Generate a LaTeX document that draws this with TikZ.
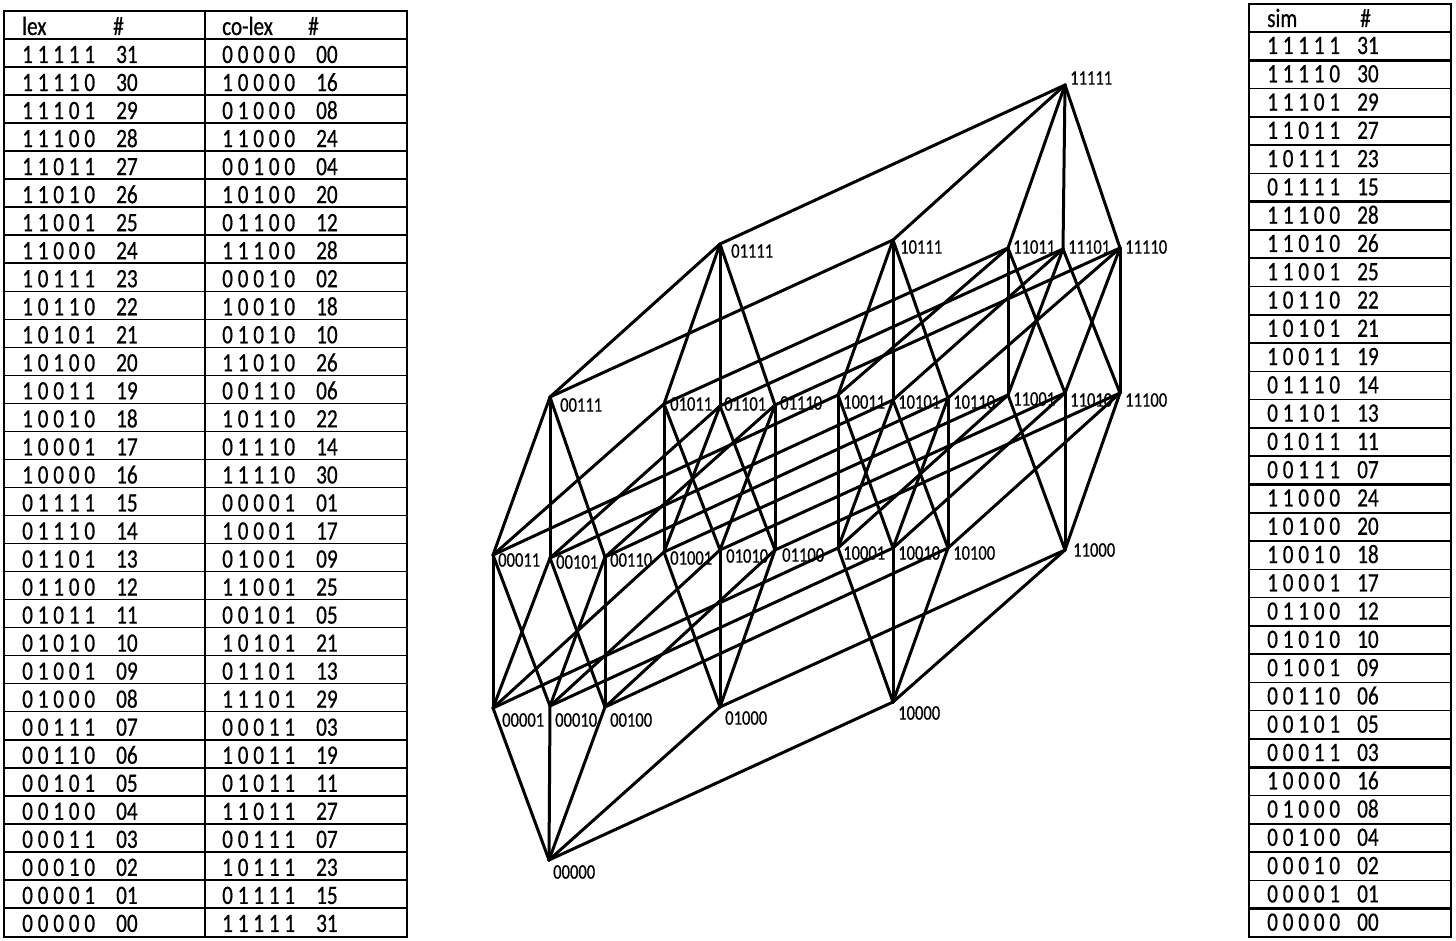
\documentclass[tikz,border=0pt]{standalone}
\usepackage{fontspec}
\setmainfont{Carlito}[FakeStretch=0.8, FakeBold=0.6]
\tikzset{
  grid/.style={line width=1.5pt},
  sepline/.style={line width=3.3pt},
  cell/.style={font=\fontsize{26.5}{28}\selectfont, inner sep=0pt, anchor=base west},
  vtx/.style={circle, fill=black, inner sep=0pt, minimum size=3.5pt},
  vlbl/.style={font=\fontsize{20.7}{22}\selectfont, inner sep=0pt, anchor=west},
  hasse/.style={line width=3pt, line cap=round},
}
\def\bitsx#1#2#3#4#5{#1 #2 #3 #4 #5}
\newcommand\bitstr[1]{\expandafter\bitsx#1}
\begin{document}
\begin{tikzpicture}[x=1pt, y=-1pt]
  \useasboundingbox (0,0) rectangle (1456,941);

  % lex / co-lex table
  \draw[grid] (4,11) rectangle (407,937);
  \draw[grid] (205,11) -- (205,937);
  \foreach \k in {0,...,31}
    \draw[grid] (4,{39+28.03*\k}) -- (407,{39+28.03*\k});
  \node[cell] (hlex)   at (22,35)  {lex};
  \node[cell] (hlexn)  at (113,35) {\#};
  \node[cell] (hcolex) at (222,35) {co-lex};
  \node[cell] (hcolexn) at (308,35) {\#};
  \foreach \a/\an/\b/\bn [count=\i from 0] in {
      11111/31/00000/00, 11110/30/10000/16, 11101/29/01000/08, 11100/28/11000/24,
      11011/27/00100/04, 11010/26/10100/20, 11001/25/01100/12, 11000/24/11100/28,
      10111/23/00010/02, 10110/22/10010/18, 10101/21/01010/10, 10100/20/11010/26,
      10011/19/00110/06, 10010/18/10110/22, 10001/17/01110/14, 10000/16/11110/30,
      01111/15/00001/01, 01110/14/10001/17, 01101/13/01001/09, 01100/12/11001/25,
      01011/11/00101/05, 01010/10/10101/21, 01001/09/01101/13, 01000/08/11101/29,
      00111/07/00011/03, 00110/06/10011/19, 00101/05/01011/11, 00100/04/11011/27,
      00011/03/00111/07, 00010/02/10111/23, 00001/01/01111/15, 00000/00/11111/31} {
    \node[cell] (lex\i)    at (22,{63+28.03*\i})  {\bitstr\a};
    \node[cell] (lexn\i)   at (116,{63+28.03*\i}) {\an};
    \node[cell] (colex\i)  at (222,{63+28.03*\i}) {\bitstr\b};
    \node[cell] (colexn\i) at (316,{63+28.03*\i}) {\bn};
  }

  % sim table
  \draw[grid] (1249,4) rectangle (1451,937);
  \foreach \k in {0,2,3,4,5,7,8,9,10,11,12,13,14,15,17,18,19,20,21,22,23,24,25,27,28,29,30}
    \draw[grid] (1249,{32+28.28*\k}) -- (1451,{32+28.28*\k});
  \foreach \k in {1,6,16,26,31}
    \draw[sepline] (1249,{32+28.28*\k}) -- (1451,{32+28.28*\k});
  \node[cell] (hsim)  at (1267,27) {sim};
  \node[cell] (hsimn) at (1360,27) {\#};
  \foreach \a/\an [count=\i from 0] in {
      11111/31, 11110/30, 11101/29, 11011/27, 10111/23, 01111/15,
      11100/28, 11010/26, 11001/25, 10110/22, 10101/21, 10011/19,
      01110/14, 01101/13, 01011/11, 00111/07, 11000/24, 10100/20,
      10010/18, 10001/17, 01100/12, 01010/10, 01001/09, 00110/06,
      00101/05, 00011/03, 10000/16, 01000/08, 00100/04, 00010/02,
      00001/01, 00000/00} {
    \node[cell] (sim\i)  at (1267,{54+28.28*\i}) {\bitstr\a};
    \node[cell] (simn\i) at (1357,{54+28.28*\i}) {\an};
  }

  % Hasse diagram of the 5-cube
  \foreach \n/\s/\x/\y/\dx/\dy in {
      0/00000/549/860/4/12,
      1/00001/493/708/9/12,   2/00010/550/706/5/14,   4/00100/605/707/5/13,
      8/01000/720/707/5/11,   16/10000/893/702/5/11,
      3/00011/493/555/5/5,    5/00101/550/558/6/4,    6/00110/605/557/5/3,
      9/01001/664/552/6/6,    10/01010/720/550/6/6,   12/01100/775/550/7/5,
      17/10001/838/548/5/5,   18/10010/893/548/5/5,   20/10100/948/548/5/5,
      24/11000/1065/550/8/0,
      7/00111/550/397/10/8,   11/01011/664/404/6/0,   13/01101/720/406/4/-2,
      14/01110/775/405/5/-2,  19/10011/838/395/5/7,   21/10101/893/400/5/2,
      22/10110/948/398/5/4,   25/11001/1008/395/5/4,  26/11010/1065/393/5/7,
      28/11100/1120/393/5/7,
      15/01111/720/244/11/7,  23/10111/893/240/7/7,   27/11011/1008/248/5/-1,
      29/11101/1063/249/5/-2, 30/11110/1120/248/5/-1,
      31/11111/1065/85/5/-7} {
    \node[vtx] (n\n) at (\x,\y) {};
    \node[vlbl] (l\n) at (\x+\dx,\y+\dy) {\s};
  }
  \foreach \n in {0,...,31}
    \foreach \b in {1,2,4,8,16} {
      \pgfmathtruncatemacro\bit{mod(floor(\n/\b),2)}
      \pgfmathtruncatemacro\up{\n+\b}
      \ifnum\bit=0 \draw[hasse] (n\n.center) -- (n\up.center); \fi
    }

\end{tikzpicture}
\end{document}
